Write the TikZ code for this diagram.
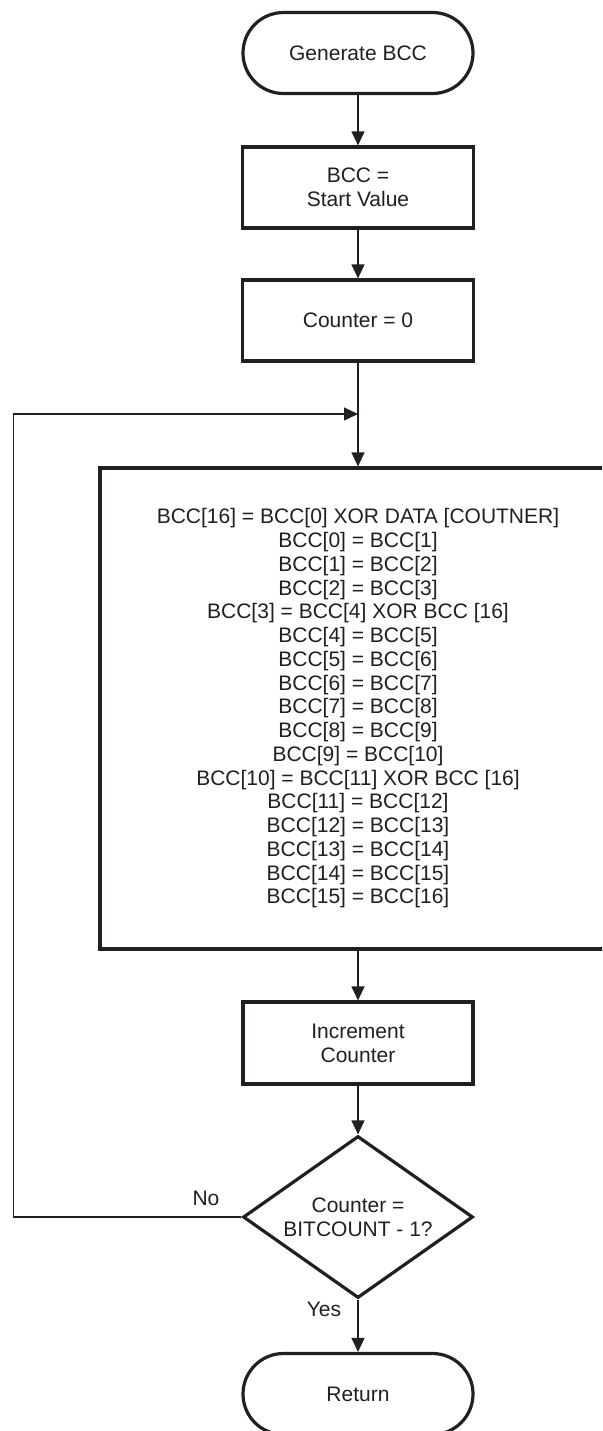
\documentclass[tikz,border=0pt]{standalone}
\usepackage{fontspec}
\setmainfont{Liberation Sans}
\usetikzlibrary{arrows.meta,shapes.geometric,shapes.misc}
\definecolor{ink}{HTML}{231F20}
\begin{document}
\begin{tikzpicture}[x=0.5pt,y=-0.5pt,
  every node/.style={font=\fontsize{10.5}{11.875}\selectfont, text=ink},
  term/.style={draw=ink, line width=1.6pt, rounded rectangle, minimum width=115pt, minimum height=40.5pt, inner sep=0pt},
  procbox/.style={draw=ink, line width=1.6pt, rectangle, align=center, inner sep=0pt},
  decis/.style={draw=ink, line width=1.6pt, diamond, shape aspect=1.42, minimum width=115pt, minimum height=81pt, inner sep=0pt, align=center},
  conn/.style={draw=ink, line width=0.6pt, -{Triangle[length=7pt,width=6.5pt]}},
  lbl/.style={inner sep=0pt}
]
\useasboundingbox (0,0) rectangle (602,1431);
\clip (0,0) rectangle (602,1431);
\fill[white] (0,0) rectangle (602,1431);

\node[term] (gen) at (358,53) {Generate BCC};
\node[procbox, minimum width=115.5pt, minimum height=40.5pt] (start) at (358,187.5) {BCC =\\Start Value};
\node[procbox, minimum width=115.5pt, minimum height=40.5pt] (cnt) at (358,320.5) {Counter = 0};
\node[procbox, minimum width=258pt, minimum height=240.5pt] (calc) at (358,708.5) {BCC[16] = BCC[0] XOR DATA [COUTNER]\\
BCC[0] = BCC[1]\\
BCC[1] = BCC[2]\\
BCC[2] = BCC[3]\\
BCC[3] = BCC[4] XOR BCC [16]\\
BCC[4] = BCC[5]\\
BCC[5] = BCC[6]\\
BCC[6] = BCC[7]\\
BCC[7] = BCC[8]\\
BCC[8] = BCC[9]\\
BCC[9] = BCC[10]\\
BCC[10] = BCC[11] XOR BCC [16]\\
BCC[11] = BCC[12]\\
BCC[12] = BCC[13]\\
BCC[13] = BCC[14]\\
BCC[14] = BCC[15]\\
BCC[15] = BCC[16]};
\node[procbox, minimum width=115pt, minimum height=41pt] (inc) at (358,1043) {Increment\\Counter};
\node[decis] (dia) at (358,1217) {Counter =\\BITCOUNT - 1?};
\node[term] (ret) at (358,1394) {Return};

\coordinate (join) at (358,414);
\coordinate (corner) at (13.5,414);

\draw[conn] (gen.south) -- (start.north);
\draw[conn] (start.south) -- (cnt.north);
\draw[conn] (cnt.south) -- (calc.north);
\draw[conn] (calc.south) -- (inc.north);
\draw[conn] (inc.south) -- (dia.north);
\draw[conn] (dia.south) -- (ret.north);
\draw[conn] (dia.west) -| (corner) -- (join);

\node[lbl] (nolbl) at (206,1198) {No};
\node[lbl] (yeslbl) at (324,1309) {Yes};
\end{tikzpicture}
\end{document}
